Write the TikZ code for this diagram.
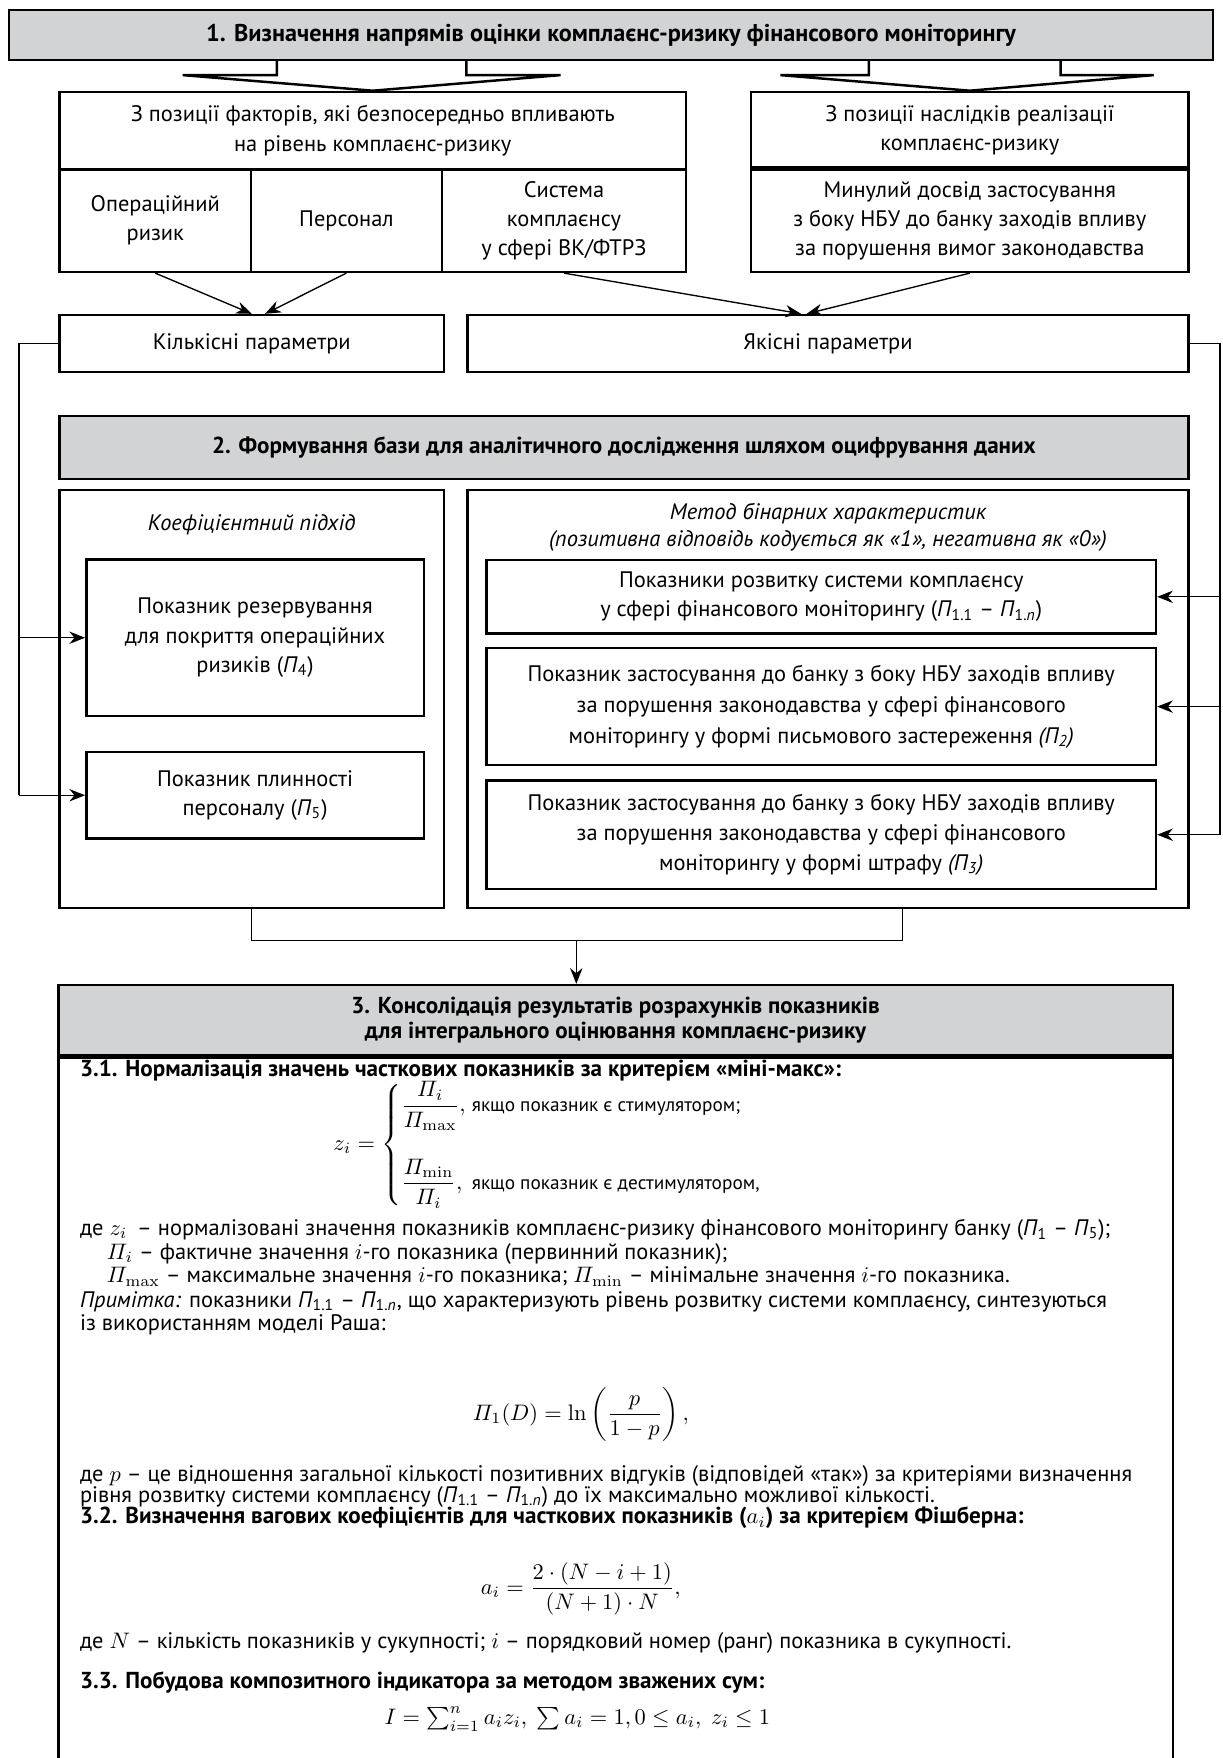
\documentclass[tikz,border=0pt]{standalone}
\usepackage{amsmath,amssymb}
\usepackage[no-math]{fontspec}
\setmainfont{PT Sans}
\usepackage{tikz}
\usetikzlibrary{arrows.meta,positioning,calc}
\definecolor{hdrgray}{HTML}{D1D3D4}
\tikzset{
  hdr/.style={draw,line width=1.1pt,fill=hdrgray,inner sep=0pt,align=center,
              font=\fontsize{10.3}{12.5}\selectfont\bfseries},
  box/.style={draw,line width=1.1pt,fill=white,inner sep=0pt,align=center},
  panel/.style={draw,line width=1.1pt,inner sep=0pt},
  lnk/.style={-{Stealth[length=7pt,width=5.5pt]},line width=0.6pt},
  wire/.style={line width=0.6pt},
  blk/.style={line width=1.1pt,line join=miter},
  txt/.style={anchor=base west,inner sep=0pt},
  bld/.style={font=\fontsize{10.3}{12.5}\selectfont\bfseries},
  frm/.style={inner sep=0pt},
}
\newcommand{\pidx}[1]{\textit{П}\textsubscript{#1}}
\newcommand{\casetxt}[1]{\text{\fontsize{8.6}{10}\selectfont #1}}

\begin{document}
\begin{tikzpicture}[x=0.5pt,y=-0.5pt,font=\fontsize{10}{13}\selectfont]
  \useasboundingbox (0,0) rectangle (1090,1568);
  % stage 1
  \node[hdr,minimum width=537pt,minimum height=22.25pt,
        font=\fontsize{10.8}{13}\selectfont\bfseries](h1) at (545,31.25)
       {1. Визначення напрямів оцінки комплаєнс-ризику фінансового моніторингу};
  \node[box,minimum width=279.5pt,minimum height=34.5pt](fac) at (332.5,116.5)
       {З позиції факторів, які безпосередньо впливають\\на рівень комплаєнс-ризику};
  \node[box,minimum width=85.5pt,minimum height=45.75pt](op) at (138.5,196.75){Операційний\\ризик};
  \node[box,minimum width=85pt,minimum height=45.75pt](pers) at (309,196.75){Персонал};
  \node[box,minimum width=109pt,minimum height=45.75pt](sys) at (503,196.75){Система\\комплаєнсу\\у сфері ВК/ФТРЗ};
  \node[box,minimum width=195pt,minimum height=34.5pt](cons) at (865,116.5)
       {З позиції наслідків реалізації\\комплаєнс-ризику};
  \node[box,minimum width=195pt,minimum height=45.75pt](past) at (865,196.75)
       {Минулий досвід застосування\\з боку НБУ до банку заходів впливу\\за порушення вимог законодавства};
  \draw[line width=2.2pt](past.north west)--(past.north east);
  \draw[blk](247,53.5)--(247,67)--(163,67)--(fac.north)--(500,67)--(416,67)--(416,53.5);
  \draw[blk](775,53.5)--(775,67)--(696,67)--(cons.north)--(1029,67)--(946,67)--(946,53.5);
  \node[box,minimum width=171.5pt,minimum height=25.5pt](kil) at (224.5,306.5){Кількісні параметри};
  \node[box,minimum width=321.5pt,minimum height=25.5pt](yak) at (738.5,306.5){Якісні параметри};
  \draw[lnk](op.south)--(kil.north);
  \draw[lnk](pers.south)--([xshift=6pt]kil.north);
  \draw[lnk](sys.south)--([xshift=-12pt]yak.north);
  \draw[lnk](past.south)--([xshift=-9.5pt]yak.north);
  % stage 2
  \node[hdr,minimum width=503.5pt,minimum height=28pt](h2) at (556.5,399)
       {2. Формування бази для аналітичного дослідження шляхом оцифрування даних};
  \node[panel,minimum width=171.5pt,minimum height=186.5pt](lp) at (224.5,623.5){};
  \node[panel,minimum width=321.5pt,minimum height=186.5pt](rp) at (738.5,623.5){};
  \node[inner sep=0pt,font=\itshape](kth) at (224.5,468){Коефіцієнтний підхід};
  \node[box,minimum width=150.5pt,minimum height=69.8pt](rez) at (227.5,568.8)
       {Показник резервування\\для покриття операційних\\ризиків (\pidx{4})};
  \node[box,minimum width=150.5pt,minimum height=38.7pt](pl) at (227.5,709.3)
       {Показник плинності\\персоналу (\pidx{5})};
  \node[inner sep=0pt,align=center,font=\itshape](bth) at (738.5,470)
       {Метод бінарних характеристик\\(позитивна відповідь кодується як «1», негативна як «0»)};
  \node[box,minimum width=298.5pt,minimum height=32.7pt](b1) at (732.5,532.3)
       {Показники розвитку системи комплаєнсу\\у сфері фінансового моніторингу (\pidx{1.1} – \pidx{1.\textit{n}})};
  \node[box,minimum width=298.5pt,minimum height=52.25pt,
        font=\fontsize{10}{13.8}\selectfont](b2) at (732.5,630.25)
       {Показник застосування до банку з боку НБУ заходів впливу\\за порушення законодавства у сфері фінансового\\моніторингу у формі письмового застереження \textit{(П\textsubscript{2})}};
  \node[box,minimum width=298.5pt,minimum height=48.5pt,
        font=\fontsize{10}{13.3}\selectfont](b3) at (732.5,744.5)
       {Показник застосування до банку з боку НБУ заходів впливу\\за порушення законодавства у сфері фінансового\\моніторингу у формі штрафу \textit{(П\textsubscript{3})}};
  % feedback lines
  \coordinate (fbl) at (17,306.5);
  \coordinate (fbr) at (1088,306.5);
  \draw[wire](kil.west)--(fbl)--(fbl|-pl.west);
  \draw[lnk](fbl|-rez.west)--(rez.west);
  \draw[lnk](fbl|-pl.west)--(pl.west);
  \draw[wire](yak.east)--(fbr)--(fbr|-b3.east);
  \draw[lnk](fbr|-b1.east)--(b1.east);
  \draw[lnk](fbr|-b2.east)--(b2.east);
  \draw[lnk](fbr|-b3.east)--(b3.east);
  % stage 3
  \node[hdr,minimum width=497pt,minimum height=31.2pt,
        font=\fontsize{10.3}{11}\selectfont\bfseries](h3) at (549,909.8)
       {3. Консолідація результатів розрахунків показників\\для інтегрального оцінювання комплаєнс-ризику};
  \node[panel,minimum width=497pt,minimum height=319.5pt](mb) at (549,1260.5){};
  \draw[line width=2.2pt](h3.south west)--(h3.south east);
  \coordinate (jl) at (224.5,839);
  \coordinate (jr) at (805,839);
  \coordinate (jm) at (514,839);
  \draw[wire](lp.south)--(jl)--(jr)--(jr|-rp.south);
  \draw[lnk](jm)--(jm|-h3.north);
  \node[txt,bld](t31) at (71,960){3.1. Нормалізація значень часткових показників за критерієм «міні-макс»:};
  \node[frm,anchor=west](fz) at (297,1021){$z_i=\left\{\begin{array}{@{}l@{\;}l}
      \dfrac{\varPi_i}{\varPi_{\max}}, & \casetxt{якщо показник є стимулятором;}\\[17pt]
      \dfrac{\varPi_{\min}}{\varPi_i}, & \casetxt{якщо показник є дестимулятором,}
    \end{array}\right.$};
  \node[txt](d1) at (71,1102){де $z_i$\, – нормалізовані значення показників комплаєнс-ризику фінансового моніторингу банку (\pidx{1} – \pidx{5});};
  \node[txt](d2) at (95,1123){$\varPi_i$ – фактичне значення $i$-го показника (первинний показник);};
  \node[txt](d3) at (95,1144){$\varPi_{\max}$ – максимальне значення $i$-го показника; $\varPi_{\min}$ – мінімальне значення $i$-го показника.};
  \node[txt](n1) at (71,1166){\textit{Примітка:} показники \pidx{1.1} – \pidx{1.\textit{n}}, що характеризують рівень розвитку системи комплаєнсу, синтезуються};
  \node[txt](n2) at (71,1187){із використанням моделі Раша:};
  \node[frm](fr) at (518,1262){$\varPi_1(D)=\ln\left(\dfrac{p}{1-p}\right),$};
  \node[txt](p1) at (71,1321){де $p$ – це відношення загальної кількості позитивних відгуків (відповідей «так») за критеріями визначення};
  \node[txt](p2) at (71,1340){рівня розвитку системи комплаєнсу (\pidx{1.1} – \pidx{1.\textit{n}}) до їх максимально можливої кількості.};
  \node[txt,bld](t32) at (71,1359){3.2. Визначення вагових коефіцієнтів для часткових показників (\textmd{$a_i$}) за критерієм Фішберна:};
  \node[frm](fa) at (518,1417){$a_i=\dfrac{2\cdot(N-i+1)}{(N+1)\cdot N},$};
  \node[txt](nN) at (71,1470){де $N$ – кількість показників у сукупності; $i$ – порядковий номер (ранг) показника в сукупності.};
  \node[txt,bld](t33) at (71,1506){3.3. Побудова композитного індикатора за методом зважених сум:};
  \node[frm](fi) at (515,1533){$I=\sum\nolimits_{i=1}^{n}a_iz_i,\ \sum a_i=1,0\le a_i,\ z_i\le 1$};
\end{tikzpicture}
\end{document}
